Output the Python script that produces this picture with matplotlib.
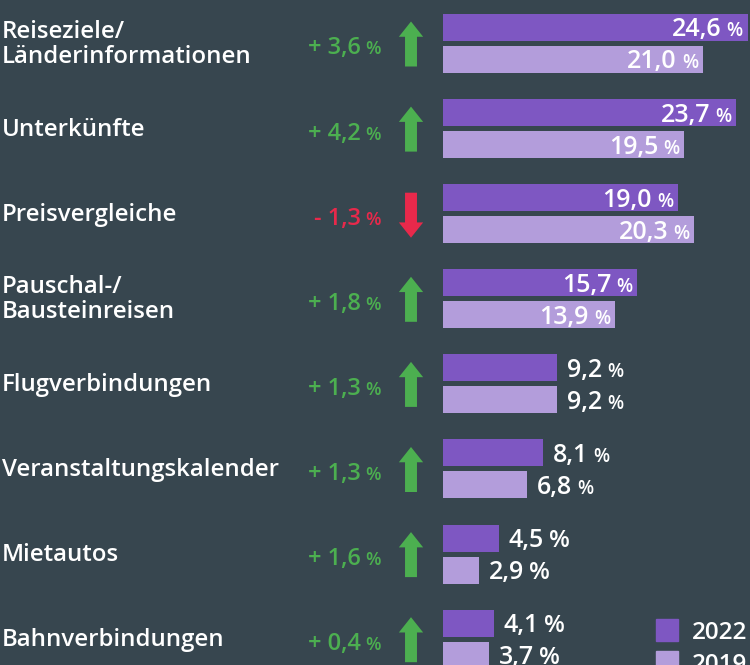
import matplotlib
matplotlib.use("Agg")
import matplotlib.pyplot as plt
import numpy as np
from matplotlib.patches import FancyArrowPatch, Rectangle
from matplotlib.transforms import offset_copy

categories = [
    "Reiseziele/\nLänderinformationen",
    "Unterkünfte",
    "Preisvergleiche",
    "Pauschal-/\nBausteinreisen",
    "Flugverbindungen",
    "Veranstaltungskalender",
    "Mietautos",
    "Bahnverbindungen",
]
values_2022 = [24.6, 23.7, 19.0, 15.7, 9.2, 8.1, 4.5, 4.1]
values_2019 = [21.0, 19.5, 20.3, 13.9, 9.2, 6.8, 2.9, 3.7]
changes = [3.6, 4.2, -1.3, 1.8, 1.3, 1.3, 1.6, 0.4]
series_names = ["2022", "2019"]

BG = "#37464f"
C22 = "#7e57c2"
C19 = "#b39ddb"
GREEN = "#4caf50"
RED = "#e8294b"
FONT = "Open Sans"

W, H = 750, 665
PX_PER_PCT = 12.38
BAR_X0 = 443
GROUP_PX = 85.1
FIRST_PX = 43.5

fig = plt.figure(figsize=(W / 100, H / 100), dpi=100, facecolor=BG)
ax = fig.add_axes([0, 0, 1, 1])
ax.set_facecolor(BG)
ax.axis("off")
ax.set_xlim(-BAR_X0 / PX_PER_PCT, (W - BAR_X0) / PX_PER_PCT)
ax.set_ylim((H - FIRST_PX) / GROUP_PX, -FIRST_PX / GROUP_PX)

y = np.arange(len(categories))
off = 16 / GROUP_PX
h = 27 / GROUP_PX
ax.barh(y - off, values_2022, height=h, left=0, color=C22)
ax.barh(y + off, values_2019, height=h, left=0, color=C19)

renderer = fig.canvas.get_renderer()


def fmt(v):
    return f"{abs(v):.1f}".replace(".", ",")


def shifted(dx, dy):
    # data position shifted by a few pixels
    return offset_copy(ax.transData, fig, x=dx, y=dy, units="dots")


def two_part(x, yv, num, pct, color, num_size, pct_size, align, dx, dy=-9, gap=5):
    kw = dict(color=color, fontfamily=FONT, fontweight=600, va="baseline")
    if align == "right":
        tp = ax.text(x, yv, pct, transform=shifted(dx, dy), ha="right", fontsize=pct_size, **kw)
        wp = tp.get_window_extent(renderer).width
        ax.text(x, yv, num, transform=shifted(dx - wp - gap, dy), ha="right", fontsize=num_size, **kw)
    else:
        tn = ax.text(x, yv, num, transform=shifted(dx, dy), ha="left", fontsize=num_size, **kw)
        wn = tn.get_window_extent(renderer).width
        ax.text(x, yv, pct, transform=shifted(dx + wn + gap, dy), ha="left", fontsize=pct_size, **kw)


for i, cat in enumerate(categories):
    # category label
    ax.text(0, i, cat, transform=shifted(2 - BAR_X0, -1), ha="left", va="center",
            fontsize=17.3, color="white", fontfamily=FONT, fontweight=600, linespacing=1.05)

    # change label + arrow
    ch = changes[i]
    col = GREEN if ch >= 0 else RED
    sign = "+ " if ch >= 0 else "- "
    two_part(0, i, sign + fmt(ch), "%", col, 17, 13, "right", 381 - BAR_X0, dy=-11, gap=5)

    if ch >= 0:
        tail, tip = i + 23 / GROUP_PX, i - 22 / GROUP_PX
    else:
        tail, tip = i - 21 / GROUP_PX, i + 24 / GROUP_PX
    arr = FancyArrowPatch((0, tail), (0, tip), transform=shifted(411 - BAR_X0, 0),
                          arrowstyle="simple,head_length=1.1,head_width=1.75,tail_width=0.86",
                          mutation_scale=10, color=col, shrinkA=0, shrinkB=0, lw=0)
    ax.add_patch(arr)

    # value labels
    for v, yy in ((values_2022[i], i - off), (values_2019[i], i + off)):
        pct_size = 17.5 if v < 5 else 13.5
        if v > 12:
            two_part(v, yy, fmt(v), "%", "white", 18, pct_size, "right", -5)
        else:
            two_part(v, yy, fmt(v), "%", "white", 18, pct_size, "left", 10)

# legend
for k, (name, col) in enumerate(zip(series_names, [C22, C19])):
    top = 619 + 32 * k
    fig.patches.append(Rectangle((656 / W, 1 - (top + 22) / H), 22 / W, 22 / H,
                                 transform=fig.transFigure, color=col))
    fig.text(692 / W, 1 - (top + 20) / H, name, ha="left", va="baseline", fontsize=17.5,
             color="white", fontfamily=FONT, fontweight=600)

fig.savefig("out.png", dpi=100, facecolor=BG)
